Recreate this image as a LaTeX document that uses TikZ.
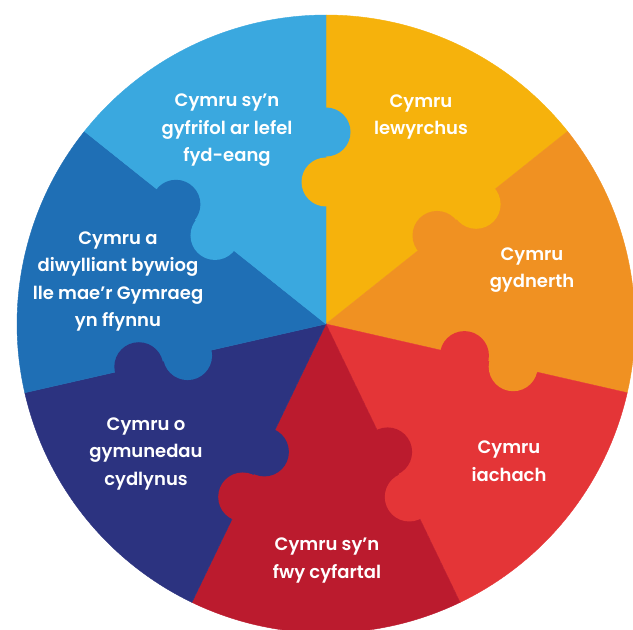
\documentclass[tikz,border=0pt]{standalone}
\usepackage{fontspec}
\setmainfont{Poppins}[BoldFont={Poppins SemiBold}]
\usetikzlibrary{calc}
\definecolor{cYellow}{HTML}{F6B20C}
\definecolor{cOrange}{HTML}{F09122}
\definecolor{cRed}{HTML}{E43537}
\definecolor{cCrimson}{HTML}{BB1B2E}
\definecolor{cNavy}{HTML}{2C3380}
\definecolor{cBlue}{HTML}{1F6FB5}
\definecolor{cLight}{HTML}{3AA8DF}
\tikzset{
  lbl/.style={text=white, align=center, font=\bfseries\fontsize{18}{27.5}\selectfont, inner sep=0pt},
}
\begin{document}
\begin{tikzpicture}[x=1pt,y=1pt]
\useasboundingbox (0,0) rectangle (633,630);
\coordinate (O) at (326,306);
\def\R{309}
\foreach \k/\col in {0/cYellow,1/cOrange,2/cRed,3/cCrimson,4/cNavy,5/cBlue,6/cLight} {
  \pgfmathsetmacro\a{90-\k*360/7}
  \pgfmathsetmacro\b{\a-360/7}
  \path[fill=\col, draw=\col, line width=0.4pt] (O) -- ++(\a:\R) arc[start angle=\a, end angle=\b, radius=\R] -- cycle;
}
\foreach \k/\ccw/\cw in {0/cLight/cYellow,1/cYellow/cOrange,2/cOrange/cRed,3/cRed/cCrimson,4/cCrimson/cNavy,5/cNavy/cBlue,6/cBlue/cLight} {
  \pgfmathsetmacro\a{90-\k*360/7}
  \fill[\ccw] ($(O)+(\a:192)$) circle[radius=24.5];
  \fill[\cw] ($(O)+(\a:142)$) circle[radius=24.5];
}
\node[lbl] (t1) at (227,499.5) {Cymru sy’n\\gyfrifol ar lefel\\fyd-eang};
\node[lbl] (t2) at (421,513) {Cymru\\lewyrchus};
\node[lbl] (t3) at (532,360) {Cymru\\gydnerth};
\node[lbl] (t4) at (509,169) {Cymru\\iachach};
\node[lbl] (t5) at (327,69.5) {Cymru sy’n\\fwy cyfartal};
\node[lbl] (t6) at (146,176.5) {Cymru o\\gymunedau\\cydlynus};
\node[lbl] (t7) at (118,348.5) {Cymru a\\diwylliant bywiog\\lle mae’r Gymraeg\\yn ffynnu};
\end{tikzpicture}
\end{document}
